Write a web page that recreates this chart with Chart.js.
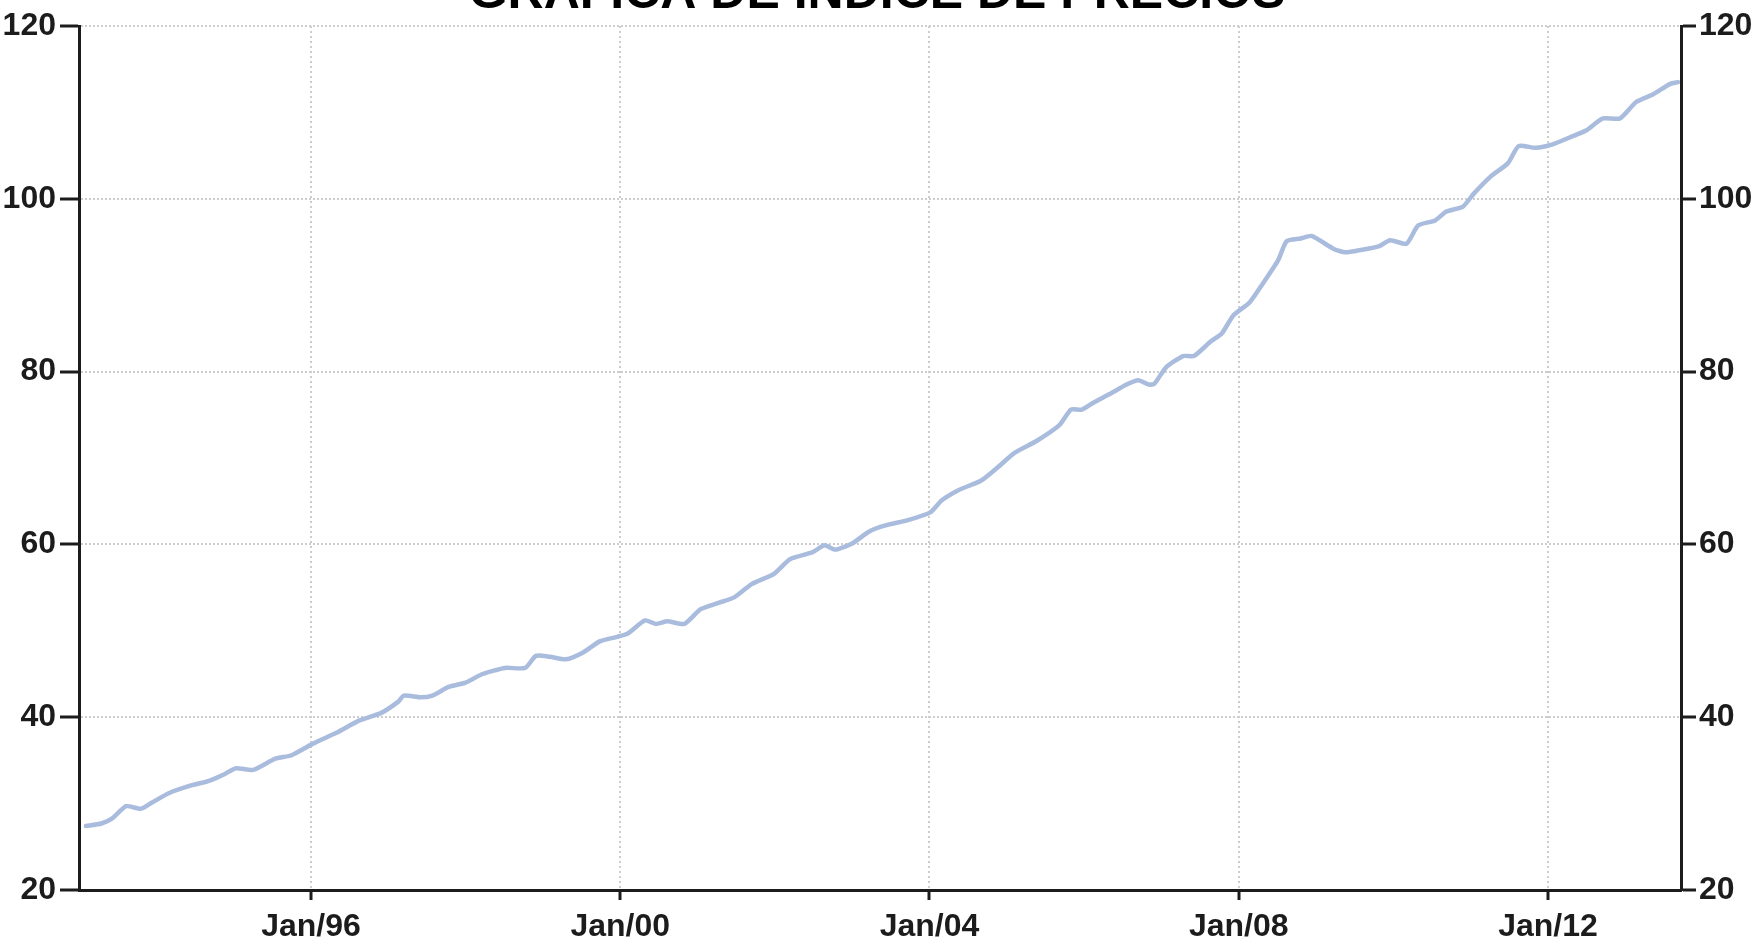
<!DOCTYPE html>
<html>
<head>
<meta charset="utf-8">
<script src="https://cdn.jsdelivr.net/npm/chart.js@4/dist/chart.umd.min.js"></script>
<style>
  html, body { margin: 0; padding: 0; background: #fff; overflow: hidden; }
  #wrap { position: absolute; left: 0; top: -38px; width: 1754px; height: 984px; }
</style>
</head>
<body>
<div id="wrap"><canvas id="ch_precios"></canvas></div>
<script>
/* ── data (decimal year → index) ──────────────────────────────── */
const years = [
  1993.09, 1993.29, 1993.43, 1993.61, 1993.80, 1993.94, 1994.16, 1994.45, 1994.67, 1994.88,
  1995.03, 1995.25, 1995.54, 1995.75, 1996.04, 1996.33, 1996.62, 1996.91, 1997.13, 1997.20,
  1997.42, 1997.57, 1997.78, 1998.00, 1998.22, 1998.51, 1998.77, 1998.91, 1999.09, 1999.30,
  1999.52, 1999.74, 1999.96, 2000.10, 2000.32, 2000.46, 2000.61, 2000.83, 2001.04, 2001.26,
  2001.48, 2001.70, 2001.99, 2002.20, 2002.49, 2002.64, 2002.78, 2003.00, 2003.22, 2003.43,
  2003.72, 2004.01, 2004.16, 2004.38, 2004.67, 2004.88, 2005.10, 2005.39, 2005.68, 2005.83,
  2005.97, 2006.12, 2006.33, 2006.55, 2006.70, 2006.84, 2006.91, 2007.06, 2007.28, 2007.42,
  2007.64, 2007.78, 2007.93, 2008.14, 2008.29, 2008.51, 2008.62, 2008.80, 2008.94, 2009.23,
  2009.38, 2009.59, 2009.81, 2009.96, 2010.17, 2010.32, 2010.54, 2010.68, 2010.90, 2011.04,
  2011.26, 2011.48, 2011.62, 2011.84, 2012.06, 2012.28, 2012.49, 2012.71, 2012.93, 2013.14,
  2013.36, 2013.58, 2013.68
];
const indice = [
  27.4, 27.7, 28.3, 29.7, 29.4, 30.1, 31.2, 32.1, 32.6, 33.4,
  34.1, 33.9, 35.2, 35.6, 37.0, 38.2, 39.6, 40.5, 41.8, 42.5,
  42.3, 42.5, 43.5, 44.0, 45.0, 45.7, 45.7, 47.1, 47.0, 46.7,
  47.5, 48.8, 49.3, 49.7, 51.2, 50.8, 51.1, 50.8, 52.5, 53.2,
  53.9, 55.4, 56.6, 58.3, 59.1, 59.9, 59.4, 60.1, 61.5, 62.2,
  62.8, 63.7, 65.1, 66.3, 67.4, 68.9, 70.6, 72.0, 73.8, 75.6,
  75.6, 76.4, 77.4, 78.5, 79.0, 78.5, 78.6, 80.5, 81.8, 81.8,
  83.5, 84.4, 86.5, 88.0, 89.9, 92.9, 95.1, 95.4, 95.7, 94.2,
  93.8, 94.1, 94.5, 95.2, 94.8, 96.9, 97.5, 98.5, 99.1, 100.6,
  102.6, 104.1, 106.1, 105.9, 106.3, 107.1, 107.9, 109.3, 109.3, 111.2,
  112.1, 113.3, 113.5
];
const tickYears  = [1996, 2000, 2004, 2008, 2012];
const tickValues = [20, 40, 60, 80, 100, 120];
const title = 'GRÁFICA DE ÍNDICE DE PRECIOS';

/* ── shared styles ─────────────────────────────────────────────── */
const INK = '#1c1c1c';
const tickFont = { family: "'Liberation Sans', Arial, sans-serif", size: 32, weight: 'bold' };
const gridLine = '#cdcdcd';

function yAxis(position, withGrid) {
  const left = position === 'left';
  return {
    position,
    min: 20, max: 120,
    afterBuildTicks: s => { s.ticks = tickValues.map(v => ({ value: v })); },
    afterFit: s => { s.width = left ? 79 : 73; },
    grid: {
      drawOnChartArea: withGrid,
      color: gridLine, lineWidth: 2,
      tickColor: INK, tickWidth: 3, tickLength: left ? 19 : 15
    },
    border: { color: INK, width: 3, dash: [2, 2] },
    ticks: { color: INK, font: tickFont, padding: left ? 4 : 3 }
  };
}

/* ── chart ─────────────────────────────────────────────────────── */
new Chart(document.getElementById('ch_precios').getContext('2d'), {
  type: 'line',
  data: {
    datasets: [{
      data: years.map((x, i) => ({ x, y: indice[i] })),
      borderColor: '#a9bcdd',
      borderWidth: 4.5,
      borderJoinStyle: 'round',
      borderCapStyle: 'round',
      pointRadius: 0,
      tension: 0.2,
      yAxisID: 'y'
    }]
  },
  options: {
    responsive: true,
    maintainAspectRatio: false,
    animation: false,
    layout: { padding: 0 },
    plugins: {
      legend: { display: false },
      tooltip: { enabled: false },
      title: {
        display: true,
        text: title,
        color: '#000',
        font: { family: "'Liberation Sans', Arial, sans-serif", size: 50, weight: 'bold', lineHeight: 1.2 },
        padding: { top: 2, bottom: 2 }
      }
    },
    scales: {
      x: {
        type: 'linear',
        min: 1993.0, max: 2013.72,
        afterBuildTicks: s => { s.ticks = tickYears.map(v => ({ value: v })); },
        afterFit: s => { s.height = 56; },
        grid: {
          color: gridLine, lineWidth: 2,
          tickColor: INK, tickWidth: 3, tickLength: 10
        },
        border: { color: INK, width: 3, dash: [2, 3] },
        ticks: {
          color: INK, font: tickFont, padding: 8, maxRotation: 0,
          callback: v => 'Jan/' + String(v).slice(2)
        }
      },
      y: yAxis('left', true),
      y2: yAxis('right', false)
    }
  }
});
</script>
</body>
</html>
